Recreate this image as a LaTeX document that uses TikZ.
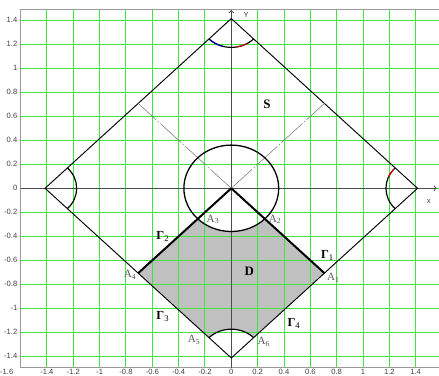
\documentclass[tikz,border=0pt]{standalone}
\usepackage{fontspec}
\setmainfont{Liberation Serif}
\setsansfont{Liberation Sans}
\usepackage{tikz}

\definecolor{gridgreen}{RGB}{60,230,60}
\definecolor{regiongray}{RGB}{192,192,192}

\begin{document}
\begin{tikzpicture}[x=3.951cm,y=3.6cm,
    gridline/.style={draw=gridgreen,line width=0.8pt},
    frameline/.style={draw=gray!80,line width=0.8pt},
    axisline/.style={draw=black!70,line width=0.8pt,->},
    edgeline/.style={draw=black,line width=0.8pt},
    arcline/.style={draw=black,line width=1pt},
    boundary/.style={draw=black,line width=1.7pt},
    helper/.style={draw=gray,line width=0.5pt,dash pattern=on 24pt off 2pt on 1pt off 2pt},
    ticklbl/.style={font=\sffamily\fontsize{6.5}{7}\selectfont,text=black!75,inner sep=0pt},
    ptlbl/.style={font=\fontsize{9.5}{10}\selectfont,text=black!65,inner sep=0pt},
    gamlbl/.style={font=\bfseries\fontsize{10.5}{11}\selectfont,inner sep=0pt},
    reglbl/.style={font=\bfseries\fontsize{11}{12}\selectfont,inner sep=0pt}]

        \useasboundingbox (-1.7563,-1.5642) rectangle (1.5771,1.5692);

        %points
        \coordinate (O) at (0,0);
        \coordinate (R) at (1.4142,0);
        \coordinate (T) at (0,1.4142);
        \coordinate (L) at (-1.4142,0);
        \coordinate (B) at (0,-1.4142);
        \coordinate (A1) at (0.7071,-0.7071);
        \coordinate (A2) at (0.2546,-0.2546);
        \coordinate (A3) at (-0.2546,-0.2546);
        \coordinate (A4) at (-0.7071,-0.7071);
        \coordinate (A5) at (-0.1697,-1.2445);
        \coordinate (A6) at (0.1697,-1.2445);
        \coordinate (UL) at (-0.7071,0.7071);
        \coordinate (UR) at (0.7071,0.7071);

        %region D
        \fill[regiongray] (A3) -- (A4) -- (A5) arc[start angle=135,end angle=45,radius=0.24]
            -- (A1) -- (A2) arc[start angle=-45,end angle=-135,radius=0.36] -- cycle;

        %grid
        \foreach \i in {-7,...,7}
            \draw[gridline] ({\i/5},-1.494) -- ({\i/5},1.494);
        \foreach \i in {-7,...,7}
            \draw[gridline] (-1.6,{\i/5}) -- (1.5771,{\i/5});

        %frame
        \draw[frameline] (1.5771,1.494) -- (-1.6,1.494) -- (-1.6,-1.494) -- (1.5771,-1.494);

        %axes
        \coordinate (xstart) at (-1.6,0);
        \coordinate (xend) at (1.56,0);
        \coordinate (ystart) at (0,-1.494);
        \coordinate (yend) at (0,1.485);
        \draw[axisline] (xstart) -- (xend);
        \draw[axisline] (ystart) -- (yend);

        %square S
        \draw[edgeline] (L) -- (T) -- (R) -- (B) -- cycle;
        \draw[helper] (O) -- (UL);
        \draw[helper] (O) -- (UR);

        %circle
        \draw[line width=1.1pt] (O) circle[radius=0.36];

        %boundary lines
        \draw[boundary] (O) -- (A1);
        \draw[boundary] (O) -- (A4);

        %corner arcs
        \draw[arcline] (A5) arc[start angle=135,end angle=45,radius=0.24];
        \draw[arcline] (-0.1697,1.2445) arc[start angle=225,end angle=315,radius=0.24];
        \draw[arcline] (-1.2445,-0.1697) arc[start angle=-45,end angle=45,radius=0.24];
        \draw[arcline] (1.2445,0.1697) arc[start angle=135,end angle=225,radius=0.24];
        \draw[arcline,blue!70!black] (T) ++(227:0.24) arc[start angle=227,end angle=254,radius=0.24];
        \draw[arcline,red!85!black] (T) ++(280:0.24) arc[start angle=280,end angle=300,radius=0.24];
        \draw[arcline,red!85!black] (R) ++(139:0.24) arc[start angle=139,end angle=156,radius=0.24];

        %tick labels
        \foreach \v [count=\k] in {1.4,1.2,1,0.8,0.6,0.4,0.2,0,-0.2,-0.4,-0.6,-0.8,-1,-1.2,-1.4}
            \node[ticklbl,anchor=east] (ytick\k) at (-1.623,\v) {\v};
        \node[ticklbl] (xtick0) at (-1.705,-1.531) {-1.6};
        \foreach \v [count=\k] in {-1.4,-1.2,-1,-0.8,-0.6,-0.4,-0.2,0,0.2,0.4,0.6,0.8,1,1.2,1.4}
            \node[ticklbl] (xtick\k) at (\v,-1.531) {\v};
        \node[ticklbl] (ylbl) at (0.112,1.444) {Y};
        \node[ticklbl] (xlbl) at (1.50,-0.106) {x};

        %labels
        \node[reglbl] (Slbl) at (0.27,0.70) {S};
        \node[reglbl] (Dlbl) at (0.137,-0.69) {D};
        \node[gamlbl] (G1) at (0.73,-0.56) {Γ\textsubscript{\mdseries 1}};
        \node[gamlbl] (G2) at (-0.52,-0.40) {Γ\textsubscript{\mdseries 2}};
        \node[gamlbl] (G3) at (-0.52,-1.07) {Γ\textsubscript{\mdseries 3}};
        \node[gamlbl] (G4) at (0.476,-1.13) {Γ\textsubscript{\mdseries 4}};
        \node[ptlbl] (lA1) at (0.775,-0.745) {A\textsubscript{1}};
        \node[ptlbl] (lA2) at (0.332,-0.257) {A\textsubscript{2}};
        \node[ptlbl] (lA3) at (-0.139,-0.257) {A\textsubscript{3}};
        \node[ptlbl] (lA4) at (-0.768,-0.72) {A\textsubscript{4}};
        \node[ptlbl] (lA5) at (-0.283,-1.264) {A\textsubscript{5}};
        \node[ptlbl] (lA6) at (0.248,-1.28) {A\textsubscript{6}};
\end{tikzpicture}
\end{document}
